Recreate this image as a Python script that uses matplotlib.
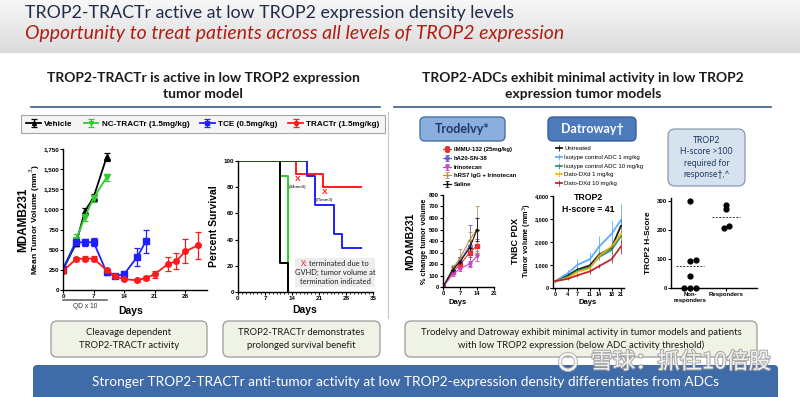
import numpy as np
import matplotlib.pyplot as plt
from matplotlib.patches import FancyBboxPatch, Circle
from matplotlib.ticker import StrMethodFormatter, MultipleLocator
import matplotlib.patheffects as pe

W, H = 800, 397

# ---- MDAMB231 tumor volume, TRACTr study
veh_days = [0, 3, 5, 7, 10]
veh_vol = [250, 580, 975, 1150, 1650]
veh_err = [20, 40, 40, 45, 50]
nc_days = [0, 3, 5, 7, 10]
nc_vol = [250, 620, 910, 1140, 1400]
nc_err = [20, 70, 50, 45, 45]
tce_days = [0, 3, 5, 7, 10, 12, 14, 17, 19]
tce_vol = [265, 595, 590, 595, 220, 175, 195, 410, 605]
tce_err = [20, 50, 45, 50, 30, 20, 30, 110, 140]
tr_days = [0, 3, 5, 7, 10, 12, 14, 17, 19, 21, 24, 26, 28, 31]
tr_vol = [235, 385, 390, 390, 245, 170, 135, 120, 150, 195, 320, 360, 480, 555]
tr_err = [20, 30, 30, 30, 20, 20, 15, 15, 25, 45, 90, 100, 150, 170]

# ---- percent survival (step curves)
veh_t, veh_s = [0, 11, 13], [100, 22.2, 0]
nc_t, nc_s = [0, 11, 13], [100, 88.9, 0]
tce_t, tce_s = [0, 18, 20, 25, 27, 32], [100, 88.9, 66.7, 44.4, 33.3, 33.3]
tr_t, tr_s = [0, 15, 22, 32], [100, 90, 80, 80]
term_labels = ['(44mm3)', '(75mm3)']
term_t = [15.4, 22.5]
term_s = [86, 76]

# ---- Trodelvy, MDAMB231 % change
tro_labels = ['IMMU-132 (25mg/kg)', 'hA20-SN-38', 'Irinotecan',
              'hRS7 IgG + Irinotecan', 'Saline']
tro_days = [[0, 4, 7, 11, 14], [0, 4, 7, 11], [0, 4, 7, 11, 14],
            [0, 4, 7, 11, 14], [0, 4, 7, 11, 14]]
tro_vals = [[0, 130, 195, 300, 360], [0, 150, 225, 360],
            [0, 110, 160, 200, 270], [0, 160, 250, 410, 500],
            [0, 150, 220, 340, 500]]
tro_errs = [[0, 20, 30, 40, 60], [0, 30, 40, 180],
            [0, 15, 20, 25, 40], [0, 30, 80, 70, 200],
            [0, 20, 40, 60, 100]]

# ---- Datroway, TNBC PDX
dat_labels = ['Untreated', 'Isotype control ADC 1 mg/kg',
              'Isotype control ADC 10 mg/kg', 'Dato-DXd 1 mg/kg',
              'Dato-DXd 10 mg/kg']
dat_days = [0, 4, 7, 11, 14, 18, 21]
dat_vals = [[300, 550, 800, 980, 1450, 1750, 2700],
            [300, 650, 1000, 1250, 1800, 2350, 2950],
            [300, 500, 750, 900, 1350, 1650, 2250],
            [300, 450, 700, 850, 1400, 1800, 2350],
            [300, 400, 550, 720, 950, 1250, 1800]]
dat_errs = [[40, 80, 100, 120, 150, 200, 300],
            [50, 150, 250, 300, 450, 550, 700],
            [40, 80, 100, 120, 150, 200, 250],
            [40, 80, 100, 120, 150, 200, 250],
            [40, 60, 80, 90, 100, 150, 300]]

# ---- TROP2 H-score
hs_groups = ['Non-\nresponders', 'Responders']
hs_non = [300, 96, 92, 40, 0, 0, 0]
hs_resp = [285, 272, 213, 205]

tro_colors = ['#e8312f', '#6a5acd', '#cc44cc', '#b8904a', '#111111']
tro_markers = ['s', 'o', 'v', '+', '+']
dat_colors = ['#000000', '#4da3ff', '#138a72', '#f2b400', '#b3141b']

plt.rcParams['font.family'] = ['Lato', 'DejaVu Sans']
fig = plt.figure(figsize=(8, 3.97), dpi=100)
arial = ['Liberation Sans', 'DejaVu Sans']


def rect(x0, y0, x1, y1):
    return [x0 / W, 1 - y1 / H, (x1 - x0) / W, (y1 - y0) / H]


def ylab_at(text, xpx, ypx, fs):
    # y label placed at a given pixel position on the slide
    bg.text(xpx, ypx, text, fontsize=fs, fontweight='bold', family=arial,
            rotation=90, ha='center', va='center')


def style_ax(ax, fs=4.5):
    ax.patch.set_alpha(0)
    for s in ['top', 'right']:
        ax.spines[s].set_visible(False)
    for s in ['left', 'bottom']:
        ax.spines[s].set_linewidth(1.0)
    ax.tick_params(labelsize=fs, width=0.8, length=2, pad=1)
    for lab in ax.get_xticklabels() + ax.get_yticklabels():
        lab.set_fontweight('bold')
        lab.set_family(arial)


bg = fig.add_axes([0, 0, 1, 1])
bg.set_xlim(0, W)
bg.set_ylim(H, 0)
bg.axis('off')

# header gradient
g = np.linspace(0, 1, 60)[:, None]
img = np.dstack([0.97 * (1 - g) + 0.86 * g] * 3).repeat(2, axis=1)
bg.imshow(img, extent=(0, W, 53, 0), aspect='auto', zorder=0)

bg.text(25, 13, 'TROP2-TRACTr active at low TROP2 expression density levels',
        fontsize=12.8, color='#1f2d4a', va='center', ha='left')
bg.text(25, 34, 'Opportunity to treat patients across all levels of TROP2 expression',
        fontsize=14, color='#b01e12', style='italic', va='center', ha='left')

bg.text(203, 86, 'TROP2-TRACTr is active in low TROP2 expression\ntumor model',
        fontsize=10, fontweight='bold', color='#1a1a1a', ha='center', va='center',
        linespacing=1.5)
bg.text(583, 86, 'TROP2-ADCs exhibit minimal activity in low TROP2\nexpression tumor models',
        fontsize=10, fontweight='bold', color='#1a1a1a', ha='center', va='center',
        linespacing=1.5)
bg.plot([31, 380], [107, 107], color='#3b5a85', lw=1.2)
bg.plot([394, 771], [107, 107], color='#3b5a85', lw=1.2)
bg.plot([388, 388], [112, 318], color='#c8c8c8', lw=0.8)

# ---- tumor volume chart
ax1 = fig.add_axes(rect(63, 149, 207, 290))
ek = dict(capsize=2, elinewidth=0.9, capthick=0.9, lw=1.3, ms=4)
h_veh = ax1.errorbar(veh_days, veh_vol, yerr=veh_err, color='black', marker='^', **ek)
h_nc = ax1.errorbar(nc_days, nc_vol, yerr=nc_err, color='#2ecc2e', marker='v', **ek)
h_tce = ax1.errorbar(tce_days, tce_vol, yerr=tce_err, color='#1f1fff', marker='s', **ek)
h_tr = ax1.errorbar(tr_days, tr_vol, yerr=tr_err, color='#ff1a1a', marker='o', **ek)
ax1.set_xlim(0, 33)
ax1.set_ylim(0, 1750)
ax1.set_xticks([0, 7, 14, 21, 28])
ax1.set_yticks(np.arange(0, 1751, 250))
ax1.yaxis.set_major_formatter(StrMethodFormatter('{x:,.0f}'))
style_ax(ax1)
ylab_at('Mean Tumor Volume (mm$^3$)', 35, 220, 6)
ylab_at('MDAMB231', 23, 220, 8.5)
bg.text(131, 311, 'Days', fontsize=7.5, fontweight='bold', family=arial,
        ha='center', va='center')
bg.plot([63, 107], [300, 300], color='#666666', lw=1.2)
bg.text(85, 307, 'QD x 10', fontsize=4.8, color='#333333', family=arial,
        ha='center', va='center')

leg = fig.legend([h_veh, h_nc, h_tce, h_tr],
                 ['Vehicle', 'NC-TRACTr (1.5mg/kg)', 'TCE (0.5mg/kg)', 'TRACTr (1.5mg/kg)'],
                 loc='center', bbox_to_anchor=(203 / W, 1 - 124 / H), ncol=4,
                 prop=dict(family=arial, weight='bold', size=5.9), frameon=True,
                 fancybox=False, edgecolor='#909090', facecolor='#f3f3f3',
                 handlelength=1.8, columnspacing=1.3, handletextpad=0.4,
                 borderpad=0.6, markerscale=0.7)
leg.get_frame().set_linewidth(0.8)

# ---- survival chart
ax2 = fig.add_axes(rect(238, 161, 373, 292))
ax2.step(nc_t, nc_s, where='post', color='#2ecc2e', lw=1.4)
ax2.step(veh_t, veh_s, where='post', color='black', lw=1.4)
ax2.step(tr_t, tr_s, where='post', color='#ff1a1a', lw=1.4)
ax2.step(tce_t, tce_s, where='post', color='#1f1fff', lw=1.4)
for t, s, lab in zip(term_t, term_s, term_labels):
    ax2.text(t, s, 'X', color='#ff1a1a', fontsize=6, fontweight='bold',
             family=arial, ha='center', va='center')
    ax2.text(t, s - 5.5, lab, color='black', fontsize=3.2, family=arial,
             ha='center', va='center')
ax2.set_xlim(0, 35)
ax2.set_ylim(0, 100)
ax2.set_xticks([0, 7, 14, 21, 28, 35])
ax2.set_yticks(np.arange(0, 101, 20))
ax2.xaxis.set_minor_locator(MultipleLocator(1))
ax2.tick_params(which='minor', length=1.5, width=0.6)
style_ax(ax2)
ylab_at('Percent Survival', 214, 226, 7.5)
bg.text(305, 310, 'Days', fontsize=7.5, fontweight='bold', family=arial,
        ha='center', va='center')

# termination note box: first line has a red "X:" prefix
bg.add_patch(FancyBboxPatch((295, 258), 80, 29, boxstyle='square,pad=0',
                            fc='#ededed', ec='none'))
note_y = [263.5, 272.7, 281.9]
probe = bg.text(335, note_y[0], 'X: terminated due to', fontsize=5.4,
                ha='center', va='center')
fig.canvas.draw()
bb = probe.get_window_extent().transformed(bg.transData.inverted())
probe.remove()
bg.text(min(bb.x0, bb.x1), note_y[0], 'X:', fontsize=5.4, ha='left', va='center',
        color='#ff1a1a')
bg.text(max(bb.x0, bb.x1), note_y[0], 'terminated due to', fontsize=5.4,
        ha='right', va='center', color='#222222')
bg.text(335, note_y[1], 'GVHD; tumor volume at', fontsize=5.4, ha='center',
        va='center', color='#222222')
bg.text(335, note_y[2], 'termination indicated', fontsize=5.4, ha='center',
        va='center', color='#222222')

# ---- buttons and info box
bg.add_patch(FancyBboxPatch((420, 117), 85, 24, boxstyle='round,pad=0,rounding_size=5',
                            fc='#8aaede', ec='#4a6fa5', lw=1))
bg.text(462.5, 129, 'Trodelvy*', fontsize=9, fontweight='bold', color='#1f3864',
        ha='center', va='center')
bg.add_patch(FancyBboxPatch((548, 117), 88, 24, boxstyle='round,pad=0,rounding_size=5',
                            fc='#4d79bd', ec='#3a5f99', lw=1))
bg.text(592, 129, 'Datroway\u2020', fontsize=9, fontweight='bold', color='white',
        ha='center', va='center')
bg.add_patch(FancyBboxPatch((668, 129), 77, 57, boxstyle='round,pad=0,rounding_size=7',
                            fc='#d6e3ef', ec='#8a9bb0', lw=0.9))
bg.text(706.5, 157.5, 'TROP2\nH-score >100\nrequired for\nresponse\u2020,^',
        fontsize=6.2, color='#1f3864', ha='center', va='center', linespacing=1.35)

# ---- Trodelvy chart
ax3 = fig.add_axes(rect(443, 195, 494, 287))
tro_handles = []
for d, v, e, c, m in zip(tro_days, tro_vals, tro_errs, tro_colors, tro_markers):
    mfc = 'none' if m == 'o' else c
    h = ax3.errorbar(d, v, yerr=e, color=c, marker=m, ms=2.5, mfc=mfc, lw=0.8,
                     capsize=1.5, elinewidth=0.6, capthick=0.6)
    tro_handles.append(h)
ax3.set_xlim(0, 21)
ax3.set_ylim(0, 800)
ax3.set_xticks([0, 7, 14, 21])
ax3.set_yticks(np.arange(0, 801, 100))
style_ax(ax3, fs=4.2)
ylab_at('% change tumor volume', 424, 241, 5.3)
ylab_at('MDAMB231', 410, 241, 7.5)
bg.text(458, 303, 'Days', fontsize=5.5, fontweight='bold', family=arial,
        ha='center', va='center')
fig.legend(tro_handles, tro_labels, loc='upper left',
           bbox_to_anchor=(440 / W, 1 - 144 / H), frameon=False,
           prop=dict(family=arial, weight='bold', size=4.3),
           handlelength=1.3, handletextpad=0.5, labelspacing=0.6, borderpad=0)

# ---- Datroway chart
ax4 = fig.add_axes(rect(553, 196, 624, 288))
dat_handles = []
for v, e, c in zip(dat_vals, dat_errs, dat_colors):
    h = ax4.errorbar(dat_days, v, yerr=e, color=c, lw=1.3, elinewidth=0.6,
                     capsize=0, alpha=0.9)
    dat_handles.append(h)
ax4.set_xlim(-0.8, 22)
ax4.set_ylim(0, 4000)
ax4.set_xticks(dat_days)
ax4.set_yticks(np.arange(0, 4001, 1000))
ax4.yaxis.set_major_formatter(StrMethodFormatter('{x:,.0f}'))
style_ax(ax4, fs=4.0)
ylab_at('Tumor volume (mm$^3$)', 527, 241, 5.2)
ylab_at('TNBC PDX', 515, 241, 6.5)
bg.text(588, 198, 'TROP2', fontsize=6.3, fontweight='bold', family=arial,
        ha='center', va='center')
bg.text(588, 209, 'H-score = 41', fontsize=6.3, fontweight='bold', family=arial,
        ha='center', va='center')
bg.text(588, 303, 'Days', fontsize=5.5, fontweight='bold', family=arial,
        ha='center', va='center')
fig.legend(dat_handles, dat_labels, loc='upper left',
           bbox_to_anchor=(553 / W, 1 - 143 / H), frameon=False,
           prop=dict(family=arial, size=4.3),
           handlelength=1.0, handletextpad=0.4, labelspacing=0.6, borderpad=0)

# ---- H-score chart
ax5 = fig.add_axes(rect(671, 198, 757, 288))
non_jit = [0, 0.17, 0, 0, -0.17, 0, 0.17]
resp_jit = [0, 0, 0.09, -0.07]
ax5.scatter(np.full(len(hs_non), 1) + non_jit, hs_non, s=12, color='black', zorder=3,
            clip_on=False)
ax5.scatter(np.full(len(hs_resp), 2) + resp_jit, hs_resp, s=12, color='black', zorder=3,
            clip_on=False)
ax5.plot([0.61, 1.39], [np.mean(hs_non)] * 2, ls=(0, (2, 1.5)), color='#333333', lw=0.7)
ax5.plot([1.62, 2.38], [np.mean(hs_resp)] * 2, ls=(0, (2, 1.5)), color='#333333', lw=0.7)
ax5.set_xlim(0.47, 2.86)
ax5.set_ylim(0, 310)
ax5.set_xticks([1, 2])
ax5.set_xticklabels(hs_groups)
ax5.set_yticks([0, 100, 200, 300])
style_ax(ax5, fs=4.3)
ylab_at('TROP2 H-Score', 649, 243, 6)

# ---- bottom boxes
boxes = [(51, 207, 'Cleavage dependent\nTROP2-TRACTr activity'),
         (223, 380, 'TROP2-TRACTr demonstrates\nprolonged survival benefit'),
         (405, 757, 'Trodelvy and Datroway exhibit minimal activity in tumor models and patients\nwith low TROP2 expression (below ADC activity threshold)')]
for x0, x1, txt in boxes:
    bg.add_patch(FancyBboxPatch((x0, 321), x1 - x0, 36, boxstyle='round,pad=0,rounding_size=6',
                                fc='#eef3e5', ec='#9a9a9a', lw=0.9))
    bg.text((x0 + x1) / 2, 339, txt, fontsize=6.8, ha='center', va='center',
            color='#1a1a1a', linespacing=1.5)

bg.add_patch(FancyBboxPatch((33, 365), 745, 40, boxstyle='round,pad=0,rounding_size=4',
                            fc='#3f6ca8', ec='none'))
bg.text(405, 382, 'Stronger TROP2-TRACTr anti-tumor activity at low TROP2-expression density differentiates from ADCs',
        fontsize=9.8, color='white', ha='center', va='center')

# watermark
bg.add_patch(Circle((568, 362), 8, fc='none', ec='white', lw=2, alpha=0.85,
                    path_effects=[pe.withStroke(linewidth=3, foreground='#9a9a9a')]))
bg.text(681, 362, '\u96ea\u7403\uff1a\u6293\u4f4f10\u500d\u80a1', fontsize=16,
        family=['Noto Sans CJK SC', 'DejaVu Sans'], color='white', alpha=0.85,
        ha='center', va='center',
        path_effects=[pe.withStroke(linewidth=1.5, foreground='#9a9a9a')])

fig.savefig('out.png', dpi=100)
